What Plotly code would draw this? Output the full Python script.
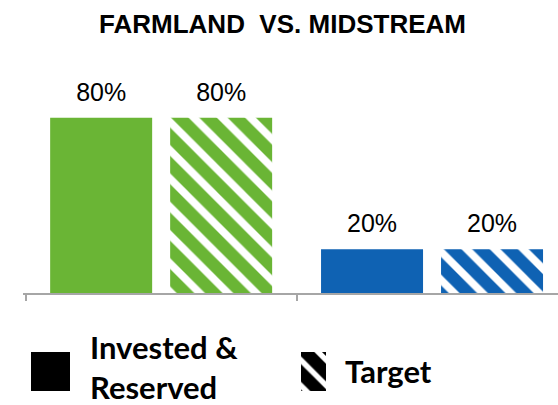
import plotly.graph_objects as go

# ---- data ----
categories = ["Farmland", "Midstream"]
invested_reserved = [80, 20]
target = [80, 20]
bar_colors = ["#6AB535", "#0F62B3"]
legend_labels = ["Invested &<br>Reserved", "Target"]
title_text = "FARMLAND\u00a0 VS. MIDSTREAM"

W, H = 558, 405


def fx(p):
    return p / W


def fy(p):
    return 1 - p / H


fig = go.Figure()

label_font = dict(family="Liberation Sans, Arial, sans-serif", size=25, color="black")

fig.add_trace(go.Bar(
    x=categories, y=invested_reserved, name="Invested & Reserved",
    marker=dict(color=bar_colors, line=dict(width=0)),
    showlegend=False, hoverinfo="skip",
))
# with per-point colours, the stripes take the bar colour on a white ground
fig.add_trace(go.Bar(
    x=categories, y=target, name="Target",
    marker=dict(color=bar_colors, line=dict(width=0),
                pattern=dict(shape="\\", size=20, solidity=0.62,
                             fillmode="replace")),
    showlegend=False, hoverinfo="skip",
))

# value labels, grouped the same way as the bars
for vals in (invested_reserved, target):
    fig.add_trace(go.Scatter(
        x=categories, y=vals, mode="markers+text",
        text=[f"{v}%" for v in vals], textposition="top center",
        textfont=label_font, marker=dict(size=16, opacity=0),
        cliponaxis=False, showlegend=False, hoverinfo="skip",
    ))

# legend keys (drawn on a small auxiliary axis)
fig.add_trace(go.Bar(
    x=[50.5, 313.5], y=[1, 1.05], width=[39, 25], offset=[-19.5, -12.5],
    base=[0, -0.03],
    xaxis="x2", yaxis="y2",
    marker=dict(color=["black", "black"], line=dict(width=0),
                pattern=dict(shape=["", "\\"], size=18, solidity=0.7,
                             fillmode="replace")),
    showlegend=False, hoverinfo="skip", cliponaxis=False,
))

leg_font = dict(family="Lato, Carlito, Calibri, sans-serif", size=31, color="black", weight="bold")
fig.add_annotation(text=legend_labels[0], xref="paper", yref="paper",
                   x=fx(88), y=fy(367), xanchor="left", yanchor="middle",
                   align="left", showarrow=False, font=leg_font)
fig.add_annotation(text=legend_labels[1], xref="paper", yref="paper",
                   x=fx(343), y=fy(371), xanchor="left", yanchor="middle",
                   align="left", showarrow=False, font=leg_font)

fig.update_layout(
    width=W, height=H, autosize=False,
    margin=dict(l=0, r=0, t=0, b=0, pad=0),
    paper_bgcolor="white", plot_bgcolor="white",
    barmode="group", bargap=0.114, bargroupgap=0.15,
    scattermode="group", scattergap=0.114,
    title=dict(text=title_text, x=fx(282.5), xanchor="center",
               y=fy(23.5), yanchor="middle", yref="container",
               font=dict(family="Liberation Sans, Arial, sans-serif", size=26,
                         color="black", weight="bold")),
    xaxis=dict(domain=[fx(23), 1], range=[-0.51, 1.465], type="category",
               showline=True, linecolor="#A6A6A6", linewidth=1.5,
               ticks="outside", ticklen=6, tickcolor="#A6A6A6", tickwidth=1.5,
               tickson="boundaries", showticklabels=False, showgrid=False,
               zeroline=False),
    yaxis=dict(domain=[fy(293), fy(74)], range=[0, 100], visible=False),
    xaxis2=dict(domain=[0, 1], range=[0, W], visible=False, anchor="y2"),
    yaxis2=dict(domain=[fy(391), fy(352)], range=[0, 1], visible=False, anchor="x2"),
)

fig.write_html("out.html", config={"displayModeBar": False},
               post_script="document.body.style.margin='0px';")
